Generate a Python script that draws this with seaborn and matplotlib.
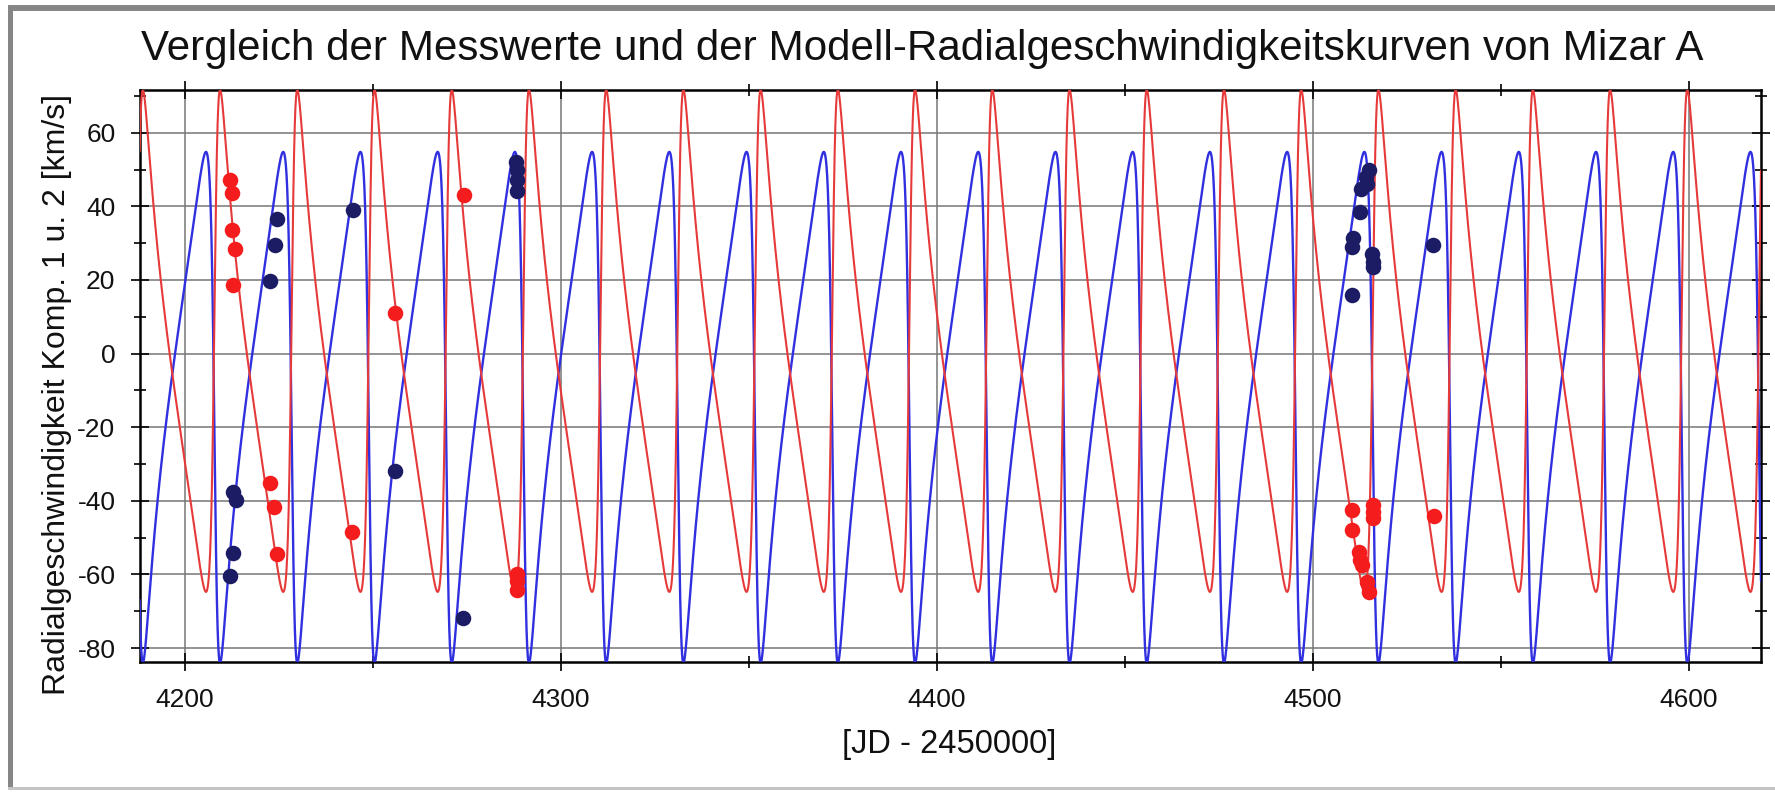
import numpy as np
import matplotlib
matplotlib.use("Agg")
import matplotlib.pyplot as plt
import seaborn as sns
from matplotlib.ticker import MultipleLocator
from matplotlib.patches import Rectangle

# Orbital elements of the spectroscopic binary Mizar A (model curves)
PERIOD = 20.5386      # days
ECC = 0.5354
OMEGA_DEG = 104.2
T_PERI = 4208.0       # JD - 2450000
GAMMA = -5.5          # km/s
K1 = 69.4             # km/s, component 1
K2 = 68.2             # km/s, component 2

# Measured radial velocities, component 1
jd_comp1 = [4212.03, 4212.91, 4212.91, 4213.54,
            4222.67, 4224.00, 4224.45,
            4244.85, 4255.93, 4274.05,
            4288.20, 4288.40, 4288.30, 4288.30,
            4510.50, 4510.50, 4510.60, 4512.50, 4512.70, 4514.10,
            4514.50, 4514.90, 4515.80, 4516.00, 4516.10,
            4531.97]
rv_comp1 = [-60.4, -54.3, -37.5, -39.7,
            19.8, 29.6, 36.6,
            38.9, -31.8, -71.8,
            52.1, 49.8, 47.1, 44.2,
            16.0, 29.0, 31.5, 38.5, 44.8, 48.0,
            46.2, 49.8, 27.0, 25.0, 23.5,
            29.6]

# Measured radial velocities, component 2
jd_comp2 = [4212.03, 4212.65, 4212.65, 4213.36, 4212.91,
            4222.67, 4223.82, 4224.45,
            4244.40, 4255.93, 4274.24,
            4288.40, 4288.40, 4288.30,
            4510.50, 4510.50, 4512.30, 4512.60, 4513.20, 4514.50,
            4514.90, 4516.00, 4516.00, 4516.10,
            4532.23]
rv_comp2 = [47.1, 43.5, 33.5, 28.3, 18.5,
            -35.2, -41.8, -54.5,
            -48.4, 11.0, 43.0,
            -59.8, -61.8, -64.3,
            -42.4, -47.9, -53.8, -56.0, -57.4, -62.0,
            -64.7, -41.1, -44.7, -43.0,
            -44.0]

TITLE = "Vergleich der Messwerte und der Modell-Radialgeschwindigkeitskurven von Mizar A"
YLABEL = "Radialgeschwindigkeit Komp. 1 u. 2 [km/s]"
XLABEL = "[JD - 2450000]"

# --- Keplerian model ---------------------------------------------------------
t = np.arange(4186.0, 4622.0, 0.01)
M = 2 * np.pi * (t - T_PERI) / PERIOD
E = M + ECC * np.sin(M)
for _ in range(40):
    E = E - (E - ECC * np.sin(E) - M) / (1 - ECC * np.cos(E))
nu = 2 * np.arctan2(np.sqrt(1 + ECC) * np.sin(E / 2), np.sqrt(1 - ECC) * np.cos(E / 2))
w = np.radians(OMEGA_DEG)
shape = np.cos(nu + w) + ECC * np.cos(w)
v1 = GAMMA + K1 * shape
v2 = GAMMA - K2 * shape

# --- Figure ------------------------------------------------------------------
sns.set_theme(style="white")
plt.rcParams["font.family"] = ["Liberation Sans", "DejaVu Sans"]
plt.rcParams["axes.unicode_minus"] = False

W, H = 1775, 792
fig = plt.figure(figsize=(W / 100, H / 100), dpi=100, facecolor="white")

def fx(px):
    return px / W

def fy(py):
    return 1 - py / H

left, right, top, bottom = 139.7, 1761.0, 90.0, 661.7
ax = fig.add_axes([fx(left), fy(bottom), fx(right) - fx(left), fy(top) - fy(bottom)])
ax.set_facecolor("white")

sns.lineplot(x=t, y=v1, ax=ax, color="#3030e0", linewidth=1.7,
             estimator=None, sort=False, zorder=3)
sns.lineplot(x=t, y=v2, ax=ax, color="#e63a3a", linewidth=1.5,
             estimator=None, sort=False, zorder=3)
sns.scatterplot(x=jd_comp1, y=rv_comp1, ax=ax, color="#1c1c64", s=125,
                linewidth=0, zorder=5)
sns.scatterplot(x=jd_comp2, y=rv_comp2, ax=ax, color="#f41c1c", s=125,
                linewidth=0, zorder=5)

ax.set_xlim(4188.0, 4619.2)
ax.set_ylim(-83.7, 71.6)
ax.set_xlabel("")
ax.set_ylabel("")

ax.xaxis.set_major_locator(MultipleLocator(100))
ax.xaxis.set_minor_locator(MultipleLocator(50))
ax.yaxis.set_major_locator(MultipleLocator(20))
ax.yaxis.set_minor_locator(MultipleLocator(10))

ax.grid(True, which="major", color="#777777", linewidth=1.1)
ax.set_axisbelow(True)

for s in ax.spines.values():
    s.set_color("black")
    s.set_linewidth(1.8)
    s.set_visible(True)

ax.tick_params(which="both", direction="inout", color="black", width=1.2,
               top=True, right=True, bottom=True, left=True,
               labeltop=False, labelright=False)
ax.tick_params(which="major", length=13)
ax.tick_params(which="minor", length=8)
ax.tick_params(axis="y", which="major", labelsize=19, pad=11, labelcolor="#111111")
ax.tick_params(axis="x", which="major", labelsize=19, pad=12.5, labelcolor="#111111")

fig.text(fx(141), fy(60), TITLE, fontsize=30.3, ha="left", va="baseline", color="#111111")
fig.text(fx(57), fy(394.5), YLABEL, fontsize=23, rotation=90, ha="center", va="center",
         color="#111111")
fig.text(fx(949), fy(744), XLABEL, fontsize=23.5, ha="center", va="center", color="#111111")

# window frame
fig.add_artist(Rectangle((fx(7.6), fy(790)), fx(5.8), fy(5) - fy(790),
                         transform=fig.transFigure, color="#868686", lw=0))
fig.add_artist(Rectangle((fx(7.6), fy(10.7)), 1 - fx(7.6), fy(5) - fy(10.7),
                         transform=fig.transFigure, color="#868686", lw=0))
fig.add_artist(Rectangle((fx(7.6), fy(790)), 1 - fx(7.6), fy(787.5) - fy(790),
                         transform=fig.transFigure, color="#c4c4c4", lw=0))

fig.savefig("out.png", dpi=100, facecolor="white")
